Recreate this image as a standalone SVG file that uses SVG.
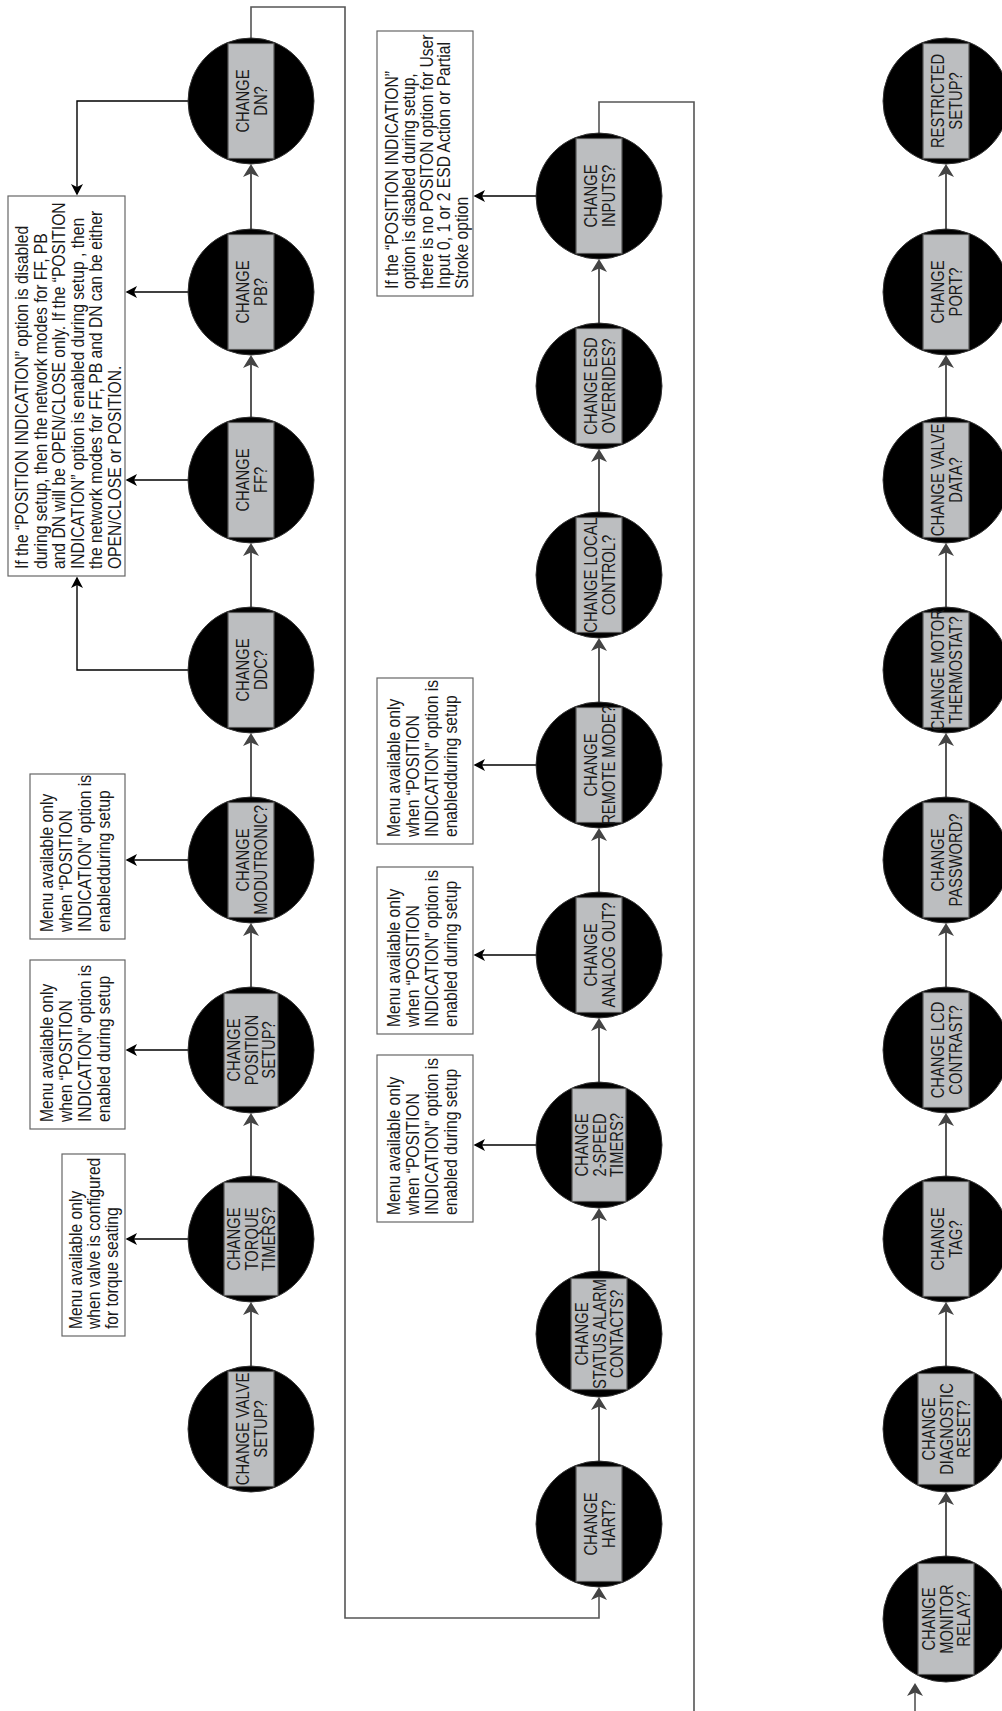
<svg xmlns="http://www.w3.org/2000/svg" width="1002" height="1711" viewBox="0 0 1002 1711">
<defs>
<style>
.c{fill:#000;stroke:#333;stroke-width:1}
.r{fill:#bcbec0;stroke:#555;stroke-width:1.2}
.t{font-family:"Liberation Sans",Arial,sans-serif;font-size:18px;fill:#1a1a1a;text-anchor:middle}
.nb{fill:#fff;stroke:#666;stroke-width:1.2}
.nt{font-family:"Liberation Sans",Arial,sans-serif;font-size:18px;fill:#1a1a1a}
.flow{stroke:#444;stroke-width:1.8;fill:none}
.loop{stroke:#555;stroke-width:1.6;fill:none}
.na{stroke:#000;stroke-width:1.4;fill:none}
</style>
<marker id="ag" markerUnits="userSpaceOnUse" viewBox="-12 -9 15 18" refX="0" refY="0" markerWidth="15" markerHeight="18" orient="auto">
<path d="M2,0 L-11,-8 L-7.5,0 L-11,8 Z" fill="#444"/>
</marker>
<marker id="ab" markerUnits="userSpaceOnUse" viewBox="-11 -7 13 14" refX="0" refY="0" markerWidth="13" markerHeight="14" orient="auto">
<path d="M1.5,0 L-10,-6 L-7,0 L-10,6 Z" fill="#000"/>
</marker>
</defs>
<rect x="0" y="0" width="1002" height="1711" fill="#fff"/>

<g id="connectors">
<path class="flow" d="M251,1366 V1304" marker-end="url(#ag)"/>
<path class="flow" d="M251,1176 V1115" marker-end="url(#ag)"/>
<path class="flow" d="M251,987 V925" marker-end="url(#ag)"/>
<path class="flow" d="M251,797 V735" marker-end="url(#ag)"/>
<path class="flow" d="M251,607 V545" marker-end="url(#ag)"/>
<path class="flow" d="M251,417 V357" marker-end="url(#ag)"/>
<path class="flow" d="M251,229 V166" marker-end="url(#ag)"/>
<path class="flow" d="M599,1461 V1399" marker-end="url(#ag)"/>
<path class="flow" d="M599,1271 V1210" marker-end="url(#ag)"/>
<path class="flow" d="M599,1082 V1020" marker-end="url(#ag)"/>
<path class="flow" d="M599,892 V830" marker-end="url(#ag)"/>
<path class="flow" d="M599,702 V640" marker-end="url(#ag)"/>
<path class="flow" d="M599,512 V451" marker-end="url(#ag)"/>
<path class="flow" d="M599,323 V261" marker-end="url(#ag)"/>
<path class="flow" d="M946,1556 V1494" marker-end="url(#ag)"/>
<path class="flow" d="M946,1366 V1304" marker-end="url(#ag)"/>
<path class="flow" d="M946,1176 V1115" marker-end="url(#ag)"/>
<path class="flow" d="M946,987 V925" marker-end="url(#ag)"/>
<path class="flow" d="M946,797 V735" marker-end="url(#ag)"/>
<path class="flow" d="M946,607 V545" marker-end="url(#ag)"/>
<path class="flow" d="M946,417 V357" marker-end="url(#ag)"/>
<path class="flow" d="M946,229 V166" marker-end="url(#ag)"/>
<path class="loop" d="M251,38 V7 H345 V1618 H599 V1589" marker-end="url(#ag)"/>
<path class="loop" d="M599,133 V102 H694 V1711"/>
<path class="loop" d="M915,1711 V1685" marker-end="url(#ag)"/>
<path class="na" d="M188,101 H77 V194" marker-end="url(#ab)"/>
<path class="na" d="M188,292 H127" marker-end="url(#ab)"/>
<path class="na" d="M188,480 H127" marker-end="url(#ab)"/>
<path class="na" d="M188,670 H77 V578" marker-end="url(#ab)"/>
<path class="na" d="M188,860 H127" marker-end="url(#ab)"/>
<path class="na" d="M188,1050 H127" marker-end="url(#ab)"/>
<path class="na" d="M188,1239 H127" marker-end="url(#ab)"/>
<path class="na" d="M536,196 H475" marker-end="url(#ab)"/>
<path class="na" d="M536,765 H475" marker-end="url(#ab)"/>
<path class="na" d="M536,955 H475" marker-end="url(#ab)"/>
<path class="na" d="M536,1145 H475" marker-end="url(#ab)"/>
</g>

<g id="n-valve-setup"><circle class="c" cx="251" cy="1429" r="63"/><rect class="r" x="228" y="1371.5" width="46" height="115"/>
<g transform="translate(251,1429) rotate(-90) scale(0.82,1)"><text class="t" y="-2.5">CHANGE VALVE</text><text class="t" y="15.5">SETUP?</text></g></g>
<g id="n-torque-timers"><circle class="c" cx="251" cy="1239" r="63"/><rect class="r" x="224" y="1182.5" width="54" height="113"/>
<g transform="translate(251,1239) rotate(-90) scale(0.82,1)"><text class="t" y="-11.5">CHANGE</text><text class="t" y="6.5">TORQUE</text><text class="t" y="24.5">TIMERS?</text></g></g>
<g id="n-position-setup"><circle class="c" cx="251" cy="1050" r="63"/><rect class="r" x="224" y="993.5" width="54" height="113"/>
<g transform="translate(251,1050) rotate(-90) scale(0.82,1)"><text class="t" y="-11.5">CHANGE</text><text class="t" y="6.5">POSITION</text><text class="t" y="24.5">SETUP?</text></g></g>
<g id="n-modutronic"><circle class="c" cx="251" cy="860" r="63"/><rect class="r" x="228" y="802.5" width="46" height="115"/>
<g transform="translate(251,860) rotate(-90) scale(0.82,1)"><text class="t" y="-2.5">CHANGE</text><text class="t" y="15.5">MODUTRONIC?</text></g></g>
<g id="n-ddc"><circle class="c" cx="251" cy="670" r="63"/><rect class="r" x="228" y="612.5" width="46" height="115"/>
<g transform="translate(251,670) rotate(-90) scale(0.82,1)"><text class="t" y="-2.5">CHANGE</text><text class="t" y="15.5">DDC?</text></g></g>
<g id="n-ff"><circle class="c" cx="251" cy="480" r="63"/><rect class="r" x="228" y="422.5" width="46" height="115"/>
<g transform="translate(251,480) rotate(-90) scale(0.82,1)"><text class="t" y="-2.5">CHANGE</text><text class="t" y="15.5">FF?</text></g></g>
<g id="n-pb"><circle class="c" cx="251" cy="292" r="63"/><rect class="r" x="228" y="234.5" width="46" height="115"/>
<g transform="translate(251,292) rotate(-90) scale(0.82,1)"><text class="t" y="-2.5">CHANGE</text><text class="t" y="15.5">PB?</text></g></g>
<g id="n-dn"><circle class="c" cx="251" cy="101" r="63"/><rect class="r" x="228" y="43.5" width="46" height="115"/>
<g transform="translate(251,101) rotate(-90) scale(0.82,1)"><text class="t" y="-2.5">CHANGE</text><text class="t" y="15.5">DN?</text></g></g>

<g id="n-hart"><circle class="c" cx="599" cy="1524" r="63"/><rect class="r" x="576" y="1466.5" width="46" height="115"/>
<g transform="translate(599,1524) rotate(-90) scale(0.82,1)"><text class="t" y="-2.5">CHANGE</text><text class="t" y="15.5">HART?</text></g></g>
<g id="n-status-alarm"><circle class="c" cx="599" cy="1334" r="63"/><rect class="r" x="571" y="1278.5" width="56" height="111"/>
<g transform="translate(599,1334) rotate(-90) scale(0.82,1)"><text class="t" y="-11.5">CHANGE</text><text class="t" y="6.5">STATUS ALARM</text><text class="t" y="24.5">CONTACTS?</text></g></g>
<g id="n-2speed"><circle class="c" cx="599" cy="1145" r="63"/><rect class="r" x="572" y="1088.5" width="54" height="113"/>
<g transform="translate(599,1145) rotate(-90) scale(0.82,1)"><text class="t" y="-11.5">CHANGE</text><text class="t" y="6.5">2-SPEED</text><text class="t" y="24.5">TIMERS?</text></g></g>
<g id="n-analog-out"><circle class="c" cx="599" cy="955" r="63"/><rect class="r" x="576" y="897.5" width="46" height="115"/>
<g transform="translate(599,955) rotate(-90) scale(0.82,1)"><text class="t" y="-2.5">CHANGE</text><text class="t" y="15.5">ANALOG OUT?</text></g></g>
<g id="n-remote-mode"><circle class="c" cx="599" cy="765" r="63"/><rect class="r" x="576" y="707.5" width="46" height="115"/>
<g transform="translate(599,765) rotate(-90) scale(0.82,1)"><text class="t" y="-2.5">CHANGE</text><text class="t" y="15.5">REMOTE MODE?</text></g></g>
<g id="n-local-control"><circle class="c" cx="599" cy="575" r="63"/><rect class="r" x="576" y="517.5" width="46" height="115"/>
<g transform="translate(599,575) rotate(-90) scale(0.82,1)"><text class="t" y="-2.5">CHANGE LOCAL</text><text class="t" y="15.5">CONTROL?</text></g></g>
<g id="n-esd-overrides"><circle class="c" cx="599" cy="386" r="63"/><rect class="r" x="576" y="328.5" width="46" height="115"/>
<g transform="translate(599,386) rotate(-90) scale(0.82,1)"><text class="t" y="-2.5">CHANGE ESD</text><text class="t" y="15.5">OVERRIDES?</text></g></g>
<g id="n-inputs"><circle class="c" cx="599" cy="196" r="63"/><rect class="r" x="576" y="138.5" width="46" height="115"/>
<g transform="translate(599,196) rotate(-90) scale(0.82,1)"><text class="t" y="-2.5">CHANGE</text><text class="t" y="15.5">INPUTS?</text></g></g>

<g id="n-monitor-relay"><circle class="c" cx="946" cy="1619" r="63"/><rect class="r" x="918" y="1563.5" width="56" height="111"/>
<g transform="translate(946,1619) rotate(-90) scale(0.82,1)"><text class="t" y="-11.5">CHANGE</text><text class="t" y="6.5">MONITOR</text><text class="t" y="24.5">RELAY?</text></g></g>
<g id="n-diagnostic-reset"><circle class="c" cx="946" cy="1429" r="63"/><rect class="r" x="918" y="1373.5" width="56" height="111"/>
<g transform="translate(946,1429) rotate(-90) scale(0.82,1)"><text class="t" y="-11.5">CHANGE</text><text class="t" y="6.5">DIAGNOSTIC</text><text class="t" y="24.5">RESET?</text></g></g>
<g id="n-tag"><circle class="c" cx="946" cy="1239" r="63"/><rect class="r" x="923" y="1181.5" width="46" height="115"/>
<g transform="translate(946,1239) rotate(-90) scale(0.82,1)"><text class="t" y="-2.5">CHANGE</text><text class="t" y="15.5">TAG?</text></g></g>
<g id="n-lcd-contrast"><circle class="c" cx="946" cy="1050" r="63"/><rect class="r" x="923" y="992.5" width="46" height="115"/>
<g transform="translate(946,1050) rotate(-90) scale(0.82,1)"><text class="t" y="-2.5">CHANGE LCD</text><text class="t" y="15.5">CONTRAST?</text></g></g>
<g id="n-password"><circle class="c" cx="946" cy="860" r="63"/><rect class="r" x="923" y="802.5" width="46" height="115"/>
<g transform="translate(946,860) rotate(-90) scale(0.82,1)"><text class="t" y="-2.5">CHANGE</text><text class="t" y="15.5">PASSWORD?</text></g></g>
<g id="n-motor-thermostat"><circle class="c" cx="946" cy="670" r="63"/><rect class="r" x="923" y="612.5" width="46" height="115"/>
<g transform="translate(946,670) rotate(-90) scale(0.82,1)"><text class="t" y="-2.5">CHANGE MOTOR</text><text class="t" y="15.5">THERMOSTAT?</text></g></g>
<g id="n-valve-data"><circle class="c" cx="946" cy="480" r="63"/><rect class="r" x="923" y="422.5" width="46" height="115"/>
<g transform="translate(946,480) rotate(-90) scale(0.82,1)"><text class="t" y="-2.5">CHANGE VALVE</text><text class="t" y="15.5">DATA?</text></g></g>
<g id="n-port"><circle class="c" cx="946" cy="292" r="63"/><rect class="r" x="923" y="234.5" width="46" height="115"/>
<g transform="translate(946,292) rotate(-90) scale(0.82,1)"><text class="t" y="-2.5">CHANGE</text><text class="t" y="15.5">PORT?</text></g></g>
<g id="n-restricted-setup"><circle class="c" cx="946" cy="101" r="63"/><rect class="r" x="923" y="43.5" width="46" height="115"/>
<g transform="translate(946,101) rotate(-90) scale(0.82,1)"><text class="t" y="-2.5">RESTRICTED</text><text class="t" y="15.5">SETUP?</text></g></g>

<g id="note-network"><rect class="nb" x="8" y="196" width="117" height="380"/>
<g transform="translate(8,576) rotate(-90) scale(0.87,1)">
<text class="nt" x="8" y="20">If the “POSITION INDICATION” option is disabled</text>
<text class="nt" x="8" y="38.6">during setup,  then the network modes for FF, PB</text>
<text class="nt" x="8" y="57.2">and DN will be OPEN/CLOSE  only.  If the “POSITION</text>
<text class="nt" x="8" y="75.8">INDICATION” option is enabled during setup , then</text>
<text class="nt" x="8" y="94.4">the network modes for FF, PB and DN can be either</text>
<text class="nt" x="8" y="113">OPEN/CLOSE or POSITION.</text>
</g></g>
<g id="note-modutronic"><rect class="nb" x="30" y="774" width="95" height="165"/>
<g transform="translate(30,939) rotate(-90) scale(0.87,1)">
<text class="nt" x="8" y="23">Menu available only</text>
<text class="nt" x="8" y="42">when “POSITION</text>
<text class="nt" x="8" y="61">INDICATION” option is</text>
<text class="nt" x="8" y="80">enabledduring setup</text>
</g></g>
<g id="note-position"><rect class="nb" x="30" y="960" width="95" height="169"/>
<g transform="translate(30,1129) rotate(-90) scale(0.87,1)">
<text class="nt" x="8" y="23">Menu available only</text>
<text class="nt" x="8" y="42">when “POSITION</text>
<text class="nt" x="8" y="61">INDICATION” option is</text>
<text class="nt" x="8" y="80">enabled during setup</text>
</g></g>
<g id="note-torque"><rect class="nb" x="62" y="1154" width="63" height="182"/>
<g transform="translate(62,1336) rotate(-90) scale(0.87,1)">
<text class="nt" x="8" y="20">Menu available only</text>
<text class="nt" x="8" y="38">when valve is configured</text>
<text class="nt" x="8" y="56">for torque seating</text>
</g></g>
<g id="note-inputs"><rect class="nb" x="377" y="31" width="96" height="265"/>
<g transform="translate(377,296) rotate(-90) scale(0.87,1)">
<text class="nt" x="8" y="21">If the “POSITION INDICATION”</text>
<text class="nt" x="8" y="38.5">option is disabled  during setup,</text>
<text class="nt" x="8" y="56">there is no POSITON option for User</text>
<text class="nt" x="8" y="73.5">Input 0, 1 or 2 ESD Action or Partial</text>
<text class="nt" x="8" y="91">Stroke option</text>
</g></g>
<g id="note-remote"><rect class="nb" x="377" y="678" width="96" height="166"/>
<g transform="translate(377,844) rotate(-90) scale(0.87,1)">
<text class="nt" x="8" y="23">Menu available only</text>
<text class="nt" x="8" y="42">when “POSITION</text>
<text class="nt" x="8" y="61">INDICATION” option is</text>
<text class="nt" x="8" y="80">enabledduring setup</text>
</g></g>
<g id="note-analog"><rect class="nb" x="377" y="867" width="96" height="167"/>
<g transform="translate(377,1034) rotate(-90) scale(0.87,1)">
<text class="nt" x="8" y="23">Menu available only</text>
<text class="nt" x="8" y="42">when “POSITION</text>
<text class="nt" x="8" y="61">INDICATION” option is</text>
<text class="nt" x="8" y="80">enabled during setup</text>
</g></g>
<g id="note-2speed"><rect class="nb" x="377" y="1055" width="96" height="167"/>
<g transform="translate(377,1222) rotate(-90) scale(0.87,1)">
<text class="nt" x="8" y="23">Menu available only</text>
<text class="nt" x="8" y="42">when “POSITION</text>
<text class="nt" x="8" y="61">INDICATION” option is</text>
<text class="nt" x="8" y="80">enabled during setup</text>
</g></g>
</svg>
